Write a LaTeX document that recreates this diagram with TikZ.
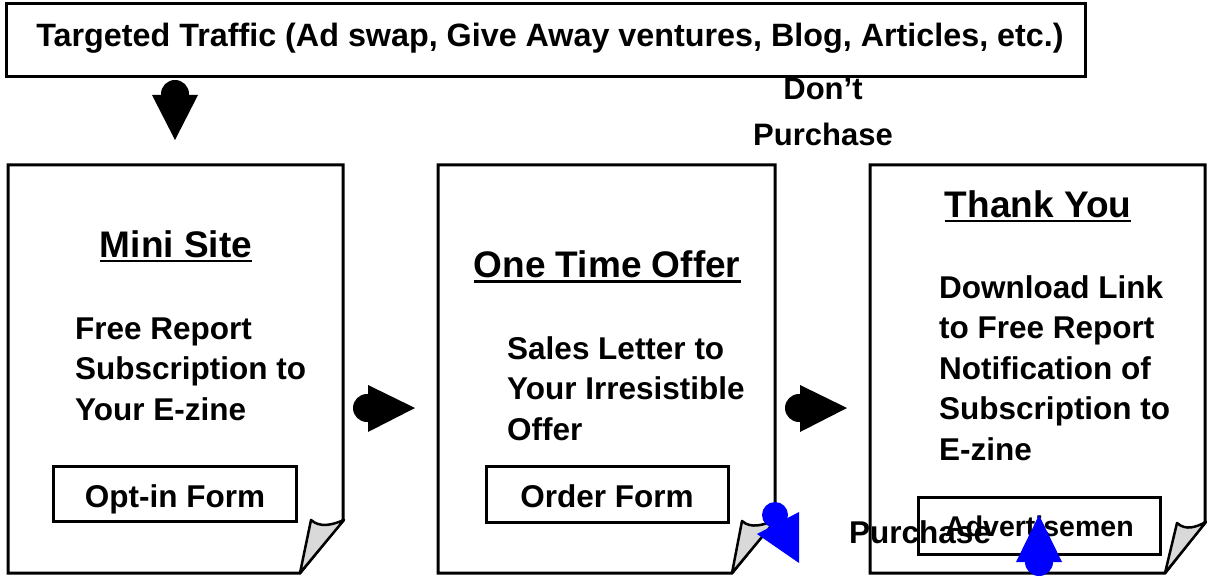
\documentclass[tikz,border=0pt]{standalone}
\usepackage{fontspec}
\setmainfont{Liberation Sans}
\newcommand\bodyfont{\fontsize{31.5}{40.5}\selectfont\bfseries}
\newcommand\topfont{\fontsize{32.3}{40}\selectfont\bfseries}
\newcommand\headfont{\fontsize{37}{44}\selectfont\bfseries}
\newcommand\advfont{\fontsize{28.5}{34}\selectfont\bfseries}
\newcommand\dpfont{\fontsize{31}{46}\selectfont\bfseries}
\begin{document}
\begin{tikzpicture}[x=1pt,y=-1pt,line join=miter,
  pg/.style={draw=black,line width=3pt,fill=white},
  flap/.style={draw=black,line width=2.5pt,fill=black!15,line join=round},
  formbox/.style={draw=black,line width=3pt,inner sep=0pt},
  body/.style={inner sep=0pt,anchor=base west,align=left,font=\bodyfont},
  head/.style={inner sep=0pt,anchor=base,font=\headfont},
  formtxt/.style={inner sep=0pt,anchor=base,font=\bodyfont},
  uline/.style={line width=2.5pt},
  blk/.style={fill=black},
  blu/.style={fill=blue}]
\useasboundingbox (0,0) rectangle (1207,577);

% top box
\node[formbox,minimum width=1079pt,minimum height=73pt] (trafficbox) at (545.5,40.5) {};
\node[inner sep=0pt,anchor=base,font=\topfont] (traffic) at (550,47)
  {Targeted Traffic (Ad swap, Give Away ventures, Blog, Articles, etc.)};

% pages
\draw[pg] (8,165) -- (343,165) -- (343,520) -- (300,573) -- (8,573) -- cycle;
\draw[flap] (300,573) -- (311,520) .. controls (320,528) and (332,525) .. (344,520) -- cycle;
\draw[pg] (438,165) -- (775,165) -- (775,520) -- (732,573) -- (438,573) -- cycle;
\draw[flap] (732,573) -- (742,521) .. controls (751,529) and (763,525) .. (776,520) -- cycle;
\draw[pg] (870,165) -- (1205,165) -- (1205,522) -- (1165,573) -- (870,573) -- cycle;
\draw[flap] (1165,573) -- (1177,523) .. controls (1186,531) and (1196,527) .. (1206,522) -- cycle;

% headings
\node[head] (h1) at (176,258) {Mini Site};
\draw[uline] ([yshift=-3pt]h1.base west) -- ([yshift=-3pt]h1.base east);
\node[head] (h2) at (607,278) {One Time Offer};
\draw[uline] ([yshift=-3.5pt]h2.base west) -- ([yshift=-3.5pt]h2.base east);
\node[head] (h3) at (1038,218) {Thank You};
\draw[uline] ([yshift=-3pt]h3.base west) -- ([yshift=-3pt]h3.base east);

% body texts (base anchor = last line)
\node[body] (b1) at (75,420) {Free Report\\Subscription to\\Your E-zine};
\node[body] (b2) at (507,440) {Sales Letter to\\Your Irresistible\\Offer};
\node[body] (b3) at (939,460) {Download Link\\to Free Report\\Notification of\\Subscription to\\E-zine};

% forms
\node[formbox,minimum width=243pt,minimum height=55pt] (optinbox) at (174.5,493.5) {};
\node[formtxt] (optin) at (175,507) {Opt-in Form};
\node[formbox,minimum width=242pt,minimum height=56pt] (orderbox) at (607,494) {};
\node[formtxt] (order) at (607,507) {Order Form};
\node[formbox,minimum width=242pt,minimum height=57pt] (advbox) at (1039,525.5) {};
\node[inner sep=0pt,anchor=base west,font=\advfont] (adv) at (945,536) {Advertisemen};

% labels
\node[inner sep=0pt,anchor=base,align=center,font=\dpfont] (dont) at (823,146) {Don’t\\Purchase};
\node[inner sep=0pt,anchor=base west,font=\bodyfont] (purchase) at (849,543) {Purchase};

% black block arrows
\fill[blk] (175,94) circle[radius=14pt];
\fill[blk] (152,95) -- (198,95) -- (175,140) -- cycle;
\fill[blk] (367,408) circle[radius=14pt];
\fill[blk] (368,385) -- (415,408) -- (368,432) -- cycle;
\fill[blk] (799,408) circle[radius=14pt];
\fill[blk] (800,385) -- (847,408) -- (800,432) -- cycle;

% blue block arrows
\fill[blu] (775,515) circle[radius=13pt];
\fill[blu] (757,534) -- (799,512) -- (799,563) -- cycle;
\fill[blu] (1039,562) circle[radius=14pt];
\fill[blu] (1016,562) -- (1062,562) -- (1039,515) -- cycle;
\end{tikzpicture}
\end{document}
